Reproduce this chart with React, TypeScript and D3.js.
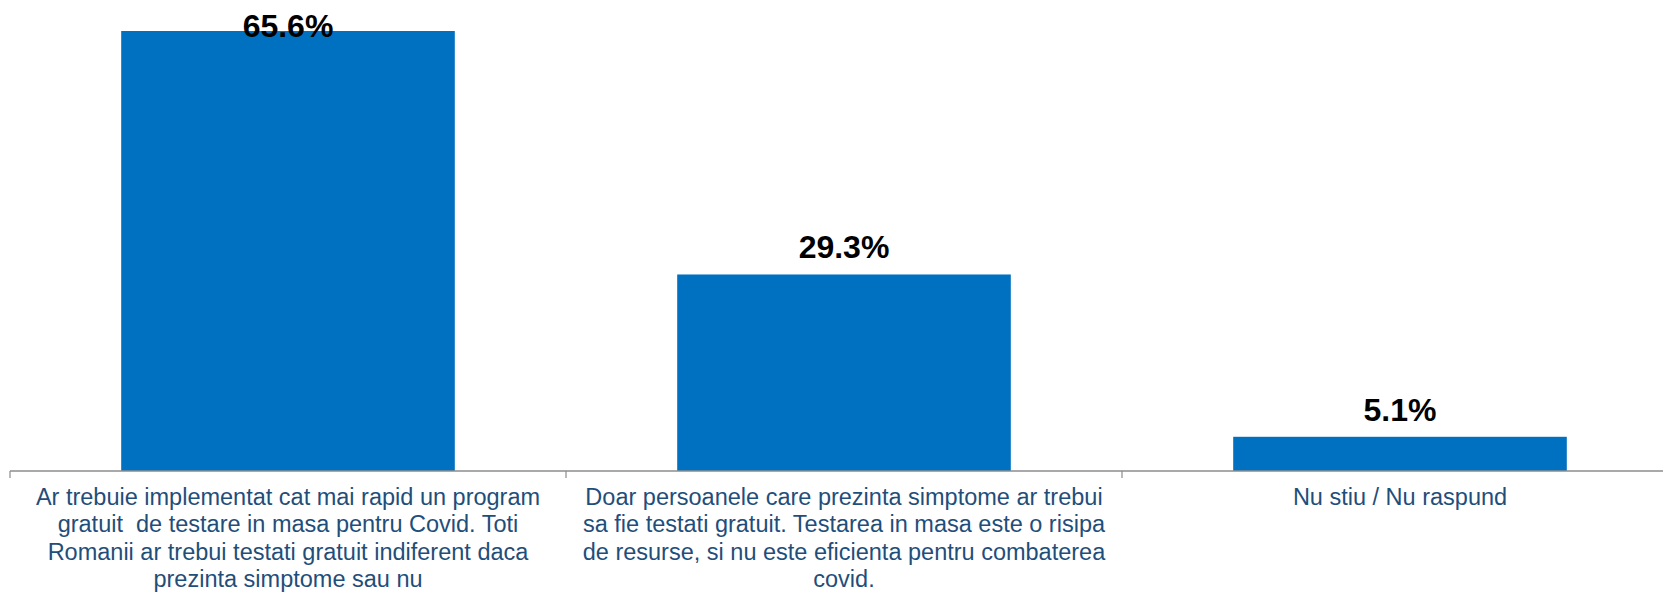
import React from "react";
import * as d3 from "d3";

const categories: string[] = [
  "Ar trebuie implementat cat mai rapid un program\ngratuit  de testare in masa pentru Covid. Toti\nRomanii ar trebui testati gratuit indiferent daca\nprezinta simptome sau nu",
  "Doar persoanele care prezinta simptome ar trebui\nsa fie testati gratuit. Testarea in masa este o risipa\nde resurse, si nu este eficienta pentru combaterea\ncovid.",
  "Nu stiu / Nu raspund",
];
const values: number[] = [65.6, 29.3, 5.1];
const valueLabels: string[] = ["65.6%", "29.3%", "5.1%"];

const W = 1663;
const H = 593;
const axisY = 471;
const axisLeft = 10;
const step = 556;

export default function App() {
  const x = d3
    .scaleBand<number>()
    .domain(categories.map((_, i) => i))
    .range([axisLeft, axisLeft + step * categories.length])
    .paddingInner(0.4)
    .paddingOuter(0.2);
  const y = d3.scaleLinear().domain([0, 65.6]).range([axisY, 31]);
  const font = "Arial, 'Liberation Sans', sans-serif";
  const ticks = d3.range(categories.length + 1).map((i) => axisLeft + i * step);

  return (
    <div style={{ position: "absolute", left: 0, top: 0 }}>
      <svg width={W} height={H} style={{ display: "block", background: "#fff" }}>
        {values.map((v, i) => (
          <rect
            key={"b" + i}
            x={x(i)!}
            y={y(v)}
            width={x.bandwidth()}
            height={axisY - y(v)}
            fill="#0070C0"
          />
        ))}
        <line x1={axisLeft} x2={W} y1={axisY} y2={axisY} stroke="#8C8C8C" strokeWidth={1.5} />
        {ticks.map((t, i) => (
          <line key={"t" + i} x1={t} x2={t} y1={axisY} y2={axisY + 7} stroke="#8C8C8C" strokeWidth={1.2} />
        ))}
        {values.map((v, i) => (
          <text
            key={"v" + i}
            x={x(i)! + x.bandwidth() / 2}
            y={Math.max(y(v) - 16, 37)}
            textAnchor="middle"
            fontFamily={font}
            fontWeight="bold"
            fontSize={32}
            fill="#000"
          >
            {valueLabels[i]}
          </text>
        ))}
        {categories.map((c, i) => (
          <text
            key={"c" + i}
            textAnchor="middle"
            fontFamily={font}
            fontSize={23.5}
            fill="#1F4E7A"
            style={{ whiteSpace: "pre" }}
          >
            {c.split("\n").map((line, j) => (
              <tspan key={j} x={x(i)! + x.bandwidth() / 2} y={axisY + 33.5 + j * 27.6}>
                {line}
              </tspan>
            ))}
          </text>
        ))}
      </svg>
    </div>
  );
}
